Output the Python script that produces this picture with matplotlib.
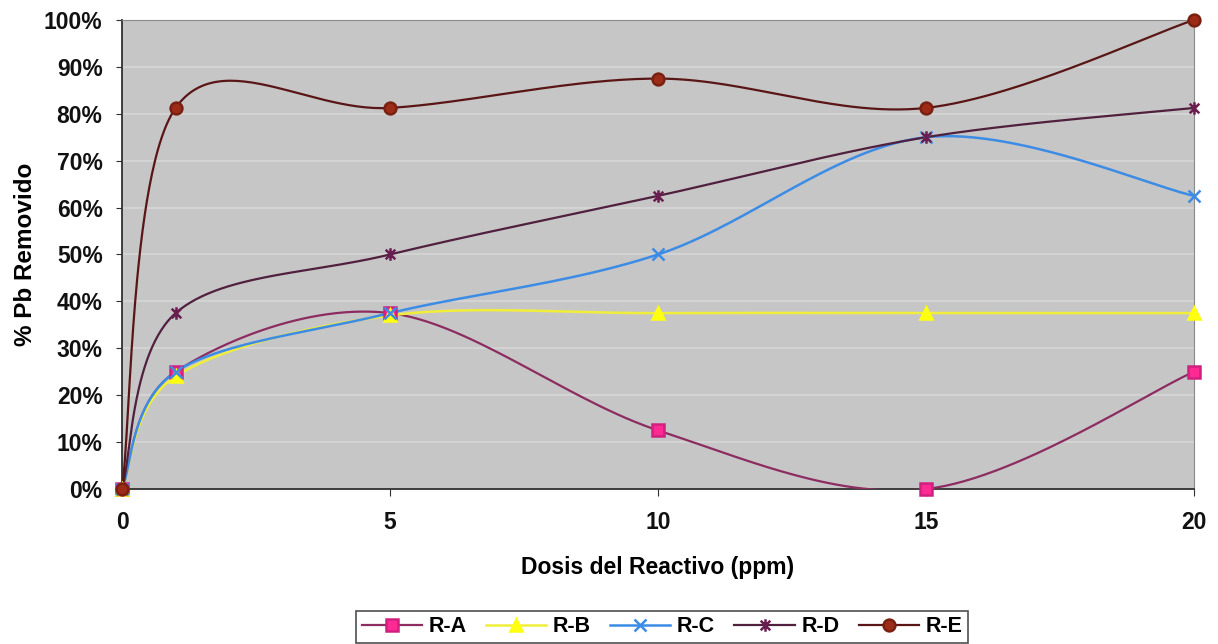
import numpy as np
import matplotlib
matplotlib.use("Agg")
import matplotlib.pyplot as plt
from matplotlib.lines import Line2D
from matplotlib.path import Path
from matplotlib.ticker import PercentFormatter

# dose of reagent (ppm) and % Pb removed per reagent
dosis = [0, 1, 5, 10, 15, 20]
r_a = [0, 25, 37.5, 12.5, 0, 25]
r_b = [0, 24, 37, 37.5, 37.5, 37.5]
r_c = [0, 25, 37.5, 50, 75, 62.5]
r_d = [0, 37.5, 50, 62.5, 75, 81.25]
r_e = [0, 81.25, 81.25, 87.5, 81.25, 100]
nombres = ["R-A", "R-B", "R-C", "R-D", "R-E"]

# asterisk marker: x with a vertical bar
star = Path([(-1, -1), (1, 1), (-1, 1), (1, -1), (0, -1.3), (0, 1.3)],
            [Path.MOVETO, Path.LINETO, Path.MOVETO, Path.LINETO, Path.MOVETO, Path.LINETO])

estilos = [
    dict(line="#8c2c60", marker="s", mfc="#ff2a92", mec="#d02080", ms=8, lw=1.6),
    dict(line="#f0ee3a", marker="^", mfc="#ffff10", mec="#ffff10", ms=9, lw=1.8),
    dict(line="#3c8ce6", marker="x", mfc="#3c8ce6", mec="#3c8ce6", ms=9, lw=1.8),
    dict(line="#50203e", marker=star, mfc="none", mec="#6a1e50", ms=9, lw=1.6),
    dict(line="#5a1616", marker="o", mfc="#9c2c18", mec="#7a2010", ms=8.5, lw=1.6),
]


def suavizar(x, y, n=60):
    # Catmull-Rom style bezier smoothing between the points
    x = np.asarray(x, float)
    y = np.asarray(y, float)
    px = np.concatenate([[x[0]], x, [x[-1]]])
    py = np.concatenate([[y[0]], y, [y[-1]]])
    t = np.linspace(0, 1, n)
    xs, ys = [], []
    for i in range(1, len(px) - 2):
        p0 = np.array([px[i], py[i]])
        p3 = np.array([px[i + 1], py[i + 1]])
        p1 = p0 + (p3 - np.array([px[i - 1], py[i - 1]])) / 6
        p2 = p3 - (np.array([px[i + 2], py[i + 2]]) - p0) / 6
        b = (np.outer((1 - t) ** 3, p0) + np.outer(3 * (1 - t) ** 2 * t, p1)
             + np.outer(3 * (1 - t) * t ** 2, p2) + np.outer(t ** 3, p3))
        xs.extend(b[:, 0])
        ys.extend(b[:, 1])
    return np.array(xs), np.array(ys)


plt.rcParams["font.family"] = ["Liberation Sans", "DejaVu Sans"]
plt.rcParams["font.weight"] = "bold"

fig = plt.figure(figsize=(12.18, 6.44), dpi=100)
ax = fig.add_axes([0.1002, 0.2407, 0.8801, 0.7283])
ax.set_facecolor("#c6c6c6")

handles = []
for nombre, serie, st in zip(nombres, [r_a, r_b, r_c, r_d, r_e], estilos):
    sx, sy = suavizar(dosis, serie)
    ax.plot(sx, sy, color=st["line"], lw=st["lw"], zorder=3)
    ax.plot(dosis, serie, ls="none", marker=st["marker"], ms=st["ms"],
            mfc=st["mfc"], mec=st["mec"], mew=1.8, clip_on=False, zorder=4)
    handles.append(Line2D([], [], color=st["line"], lw=st["lw"], marker=st["marker"],
                          ms=st["ms"], mfc=st["mfc"], mec=st["mec"], mew=1.8, label=nombre))

ax.set_xlim(0, 20)
ax.set_ylim(0, 100)
ax.set_xticks([0, 5, 10, 15, 20])
ax.set_yticks(np.arange(0, 101, 10))
ax.yaxis.set_major_formatter(PercentFormatter(decimals=0))
ax.grid(axis="y", color="#d6d6d6", lw=1.2)
ax.set_axisbelow(True)

for s in ["top", "right"]:
    ax.spines[s].set_color("#8a8a8a")
for s in ["left", "bottom"]:
    ax.spines[s].set_color("#303030")
    ax.spines[s].set_linewidth(1.3)

ax.tick_params(axis="x", direction="out", length=5, pad=11, labelsize=16.5, color="#303030")
ax.tick_params(axis="y", direction="out", length=4, pad=10, labelsize=16.5, color="#303030")
for lab in ax.get_xticklabels() + ax.get_yticklabels():
    lab.set_fontweight("bold")
    lab.set_color("#111111")

ax.set_xlabel("Dosis del Reactivo (ppm)", fontsize=16.5, fontweight="bold", labelpad=16)
ax.set_ylabel("% Pb Removido", fontsize=17.5, fontweight="bold", labelpad=5)

leg = fig.legend(handles=handles, loc="center", bbox_to_anchor=(0.5435, 0.0264), ncol=5,
                 frameon=True, fancybox=False, fontsize=15.5, handlelength=2.8,
                 handletextpad=0.3, columnspacing=0.9, borderpad=0.25)
leg.get_frame().set_edgecolor("#222222")
leg.get_frame().set_linewidth(1.2)

fig.savefig("out.png", dpi=100)
